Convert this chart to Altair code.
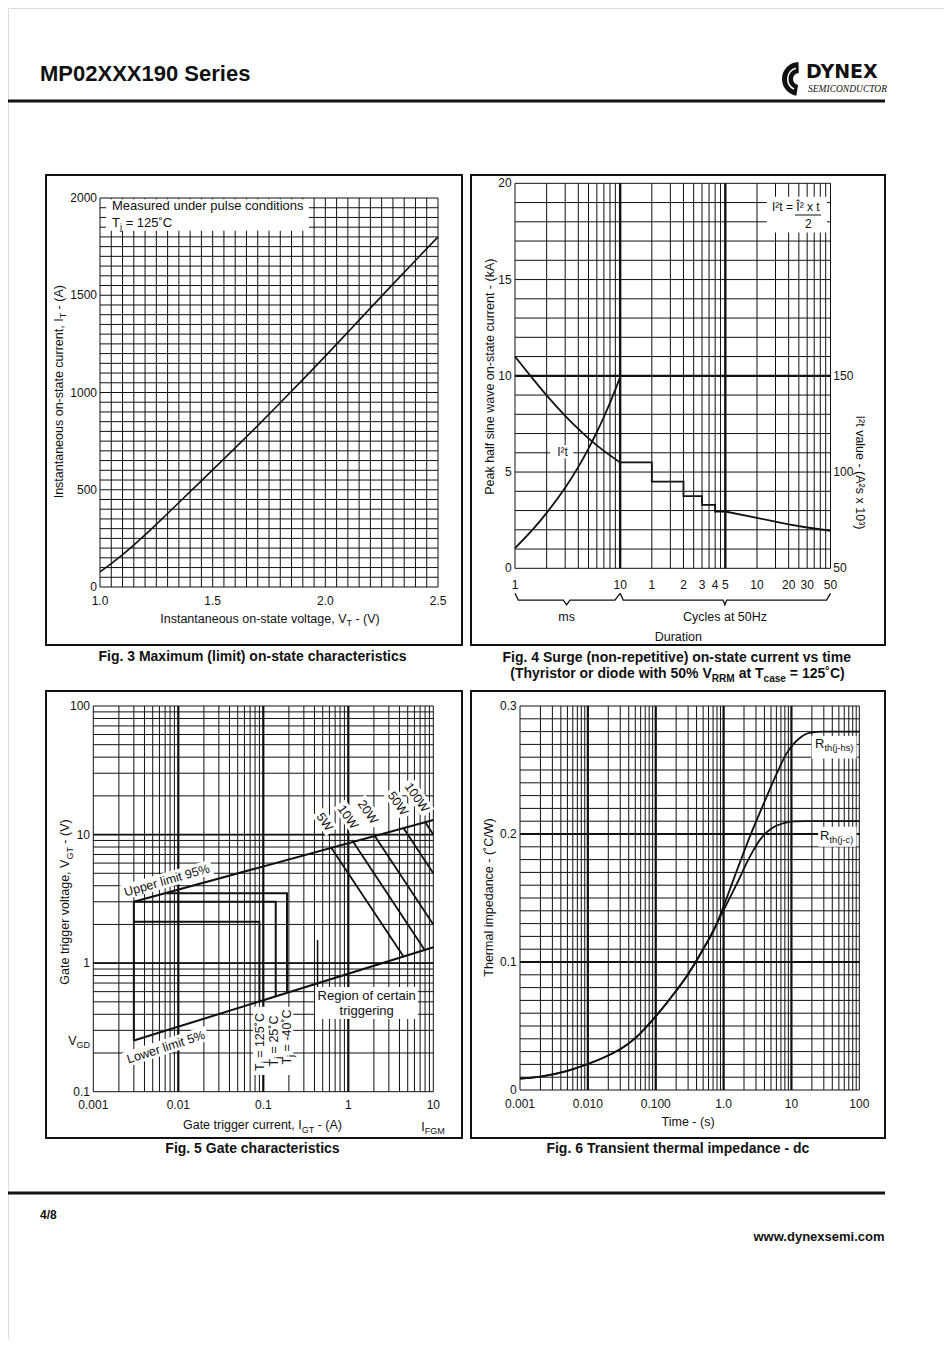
import math
import altair as alt
import pandas as pd

# ================= values =================
# Fig. 3  maximum on-state characteristic
fig3_vt = [1.0, 1.05, 1.1, 1.2, 1.3, 1.4, 1.5, 1.6, 1.7, 1.8, 1.9, 2.0, 2.1, 2.2, 2.3, 2.4, 2.5]
fig3_it = [78, 120, 166, 268, 378, 490, 602, 715, 830, 947, 1066, 1187, 1310, 1434, 1557, 1679, 1800]
fig3_xticks = [1.0, 1.5, 2.0, 2.5]
fig3_xlabels = ["1.0", "1.5", "2.0", "2.5"]
fig3_yticks = [0, 500, 1000, 1500, 2000]
fig3_ylabels = ["0", "500", "1000", "1500", "2000"]

# Fig. 4  surge current (x in ms: 1..10 ms, then cycles at 50 Hz)
fig4_curve_ms = [1, 1.5, 2, 3, 4, 5, 7, 10]
fig4_curve_ka = [11.0, 9.8, 8.98, 7.92, 7.24, 6.75, 6.10, 5.5]
fig4_step_ms = [10, 20, 20, 40, 40, 60, 60, 80, 80, 100, 200, 400, 600, 1000]
fig4_step_ka = [5.5, 5.5, 4.5, 4.5, 3.75, 3.75, 3.3, 3.3, 2.95, 2.95, 2.62, 2.28, 2.12, 1.95]
fig4_i2t_ms = [1, 1.5, 2, 3, 4, 5, 6, 7, 8, 9, 10]
fig4_i2t_val = [60.5, 70.6, 78.8, 91.8, 102.7, 112.2, 120.8, 128.6, 135.9, 142.8, 149.5]
fig4_xticks_ms = [1, 10, 20, 40, 60, 80, 100, 200, 400, 600, 1000]
fig4_xlabels = ["1", "10", "1", "2", "3", "4", "5", "10", "20", "30", "50"]
fig4_yticks = [0, 5, 10, 15, 20]
fig4_ylabels = ["0", "5", "10", "15", "20"]
fig4_y2ticks = [50, 100, 150]
fig4_y2labels = ["50", "100", "150"]
fig4_brace_ms_x = [1, 1.075, 2.88, 3.1, 3.33, 8.92, 10]
fig4_brace_cy_x = [10, 10.7, 95.4, 99, 103, 917, 1000]
fig4_brace_y = [-1.3, -1.65, -1.65, -1.9, -1.65, -1.65, -1.3]

# Fig. 5  gate characteristics
fig5_upper_i = [0.003, 10]
fig5_upper_v = [3.0, 13.0]
fig5_lower_i = [0.003, 10]
fig5_lower_v = [0.25, 1.33]
fig5_rect_temp = ["125", "25", "-40"]
fig5_rect_left = [0.003, 0.003, 0.007]
fig5_rect_i = [0.09, 0.14, 0.19]
fig5_rect_top = [2.1, 3.0, 3.5]
fig5_rect_low = [0.50, 0.55, 0.59]
fig5_power_w = ["5W", "10W", "20W", "50W", "100W"]
fig5_power_i0 = [0.63, 1.14, 2.05, 4.45, 8.0]
fig5_power_v0 = [7.9, 8.78, 9.76, 11.24, 12.5]
fig5_power_i1 = [4.44, 7.89, 10, 10, 10]
fig5_power_v1 = [1.13, 1.27, 2.0, 5.0, 10.0]
fig5_zone_i = [0.007, 0.19, 0.19, 10]
fig5_zone_lo = [3.5, 3.5, 0.59, 1.33]
fig5_zone_hi = [3.5, 6.35, 6.35, 13.0]
fig5_pointer_i = [0.435, 0.435]
fig5_pointer_v = [1.51, 0.62]
fig5_xticks = [0.001, 0.01, 0.1, 1, 10]
fig5_xlabels = ["0.001", "0.01", "0.1", "1", "10"]
fig5_yticks = [0.1, 1, 10, 100]
fig5_ylabels = ["0.1", "1", "10", "100"]

# Fig. 6  transient thermal impedance
fig6_t_common = [0.001, 0.002, 0.005, 0.01, 0.02, 0.03, 0.05, 0.1, 0.2, 0.3, 0.5]
fig6_z_common = [0.009, 0.0105, 0.0150, 0.0203, 0.0270, 0.0318, 0.0405, 0.0575, 0.0775, 0.0905, 0.1100]
fig6_t_jc = [0.7, 1.0, 1.3, 1.64, 2.2, 2.73, 3.5, 4.3, 5.5, 7.5, 11, 16, 30, 100]
fig6_z_jc = [0.1243, 0.1405, 0.1525, 0.1633, 0.1776, 0.187, 0.196, 0.2012, 0.2055, 0.2083, 0.2099, 0.21, 0.21, 0.21]
fig6_t_jhs = [0.7, 1.0, 1.39, 2.44, 4.3, 6.04, 8.5, 13.3, 18.6, 30, 100]
fig6_z_jhs = [0.1235, 0.1435, 0.164, 0.198, 0.229, 0.247, 0.263, 0.275, 0.279, 0.28, 0.28]
fig6_xticks = [0.001, 0.01, 0.1, 1, 10, 100]
fig6_xlabels = ["0.001", "0.010", "0.100", "1.0", "10", "100"]
fig6_yticks = [0, 0.1, 0.2, 0.3]
fig6_ylabels = ["0", "0.1", "0.2", "0.3"]

# grid lines
fig3_vgrid = [round(1.0 + 0.05 * k, 2) for k in range(31)]
fig3_hgrid = [50 * k for k in range(41)]
fig4_vgrid = [m * 10 ** d for d in range(0, 3) for m in range(1, 10)] + [1000]
fig4_vgrid_major = [10, 100]
fig4_hgrid = list(range(0, 21))
fig4_hgrid_major = [10]
fig5_vgrid = [m * 10.0 ** d for d in range(-3, 1) for m in range(1, 10)] + [10]
fig5_vgrid_major = [0.01, 0.1, 1]
fig5_hgrid = [m * 10.0 ** d for d in range(-1, 2) for m in range(1, 10)] + [100]
fig5_hgrid_major = [1, 10]
fig6_vgrid = [m * 10.0 ** d for d in range(-3, 2) for m in range(1, 10)] + [100]
fig6_vgrid_major = [0.01, 0.1, 1, 10]
fig6_hgrid = [round(0.01 * k, 2) for k in range(31)]
fig6_hgrid_major = [0.1, 0.2]

# ================= helpers =================
OFF = 8
FONT = "Liberation Sans"
INK = "#111111"


def cx(v):
    return v - OFF


def cy(v):
    return v - OFF


_AR = dict(zip(" !\"#$%&'()*+,-./", [278, 278, 355, 556, 556, 889, 667, 191, 333, 333, 389, 584, 278, 333, 278, 278]))
_AR.update({c: 556 for c in "0123456789"})
_AR.update(dict(zip(":;<=>?", [278, 278, 584, 584, 584, 556])))
_AR.update(zip("ABCDEFGHIJKLMNOPQRSTUVWXYZ", [667, 667, 722, 722, 667, 611, 778, 722, 278, 500, 667, 556, 833,
                                               722, 778, 667, 778, 722, 667, 611, 722, 667, 944, 667, 667, 611]))
_AR.update(zip("abcdefghijklmnopqrstuvwxyz", [556, 556, 500, 556, 556, 278, 556, 556, 222, 222, 500, 222, 833,
                                               556, 556, 556, 556, 333, 500, 278, 556, 500, 722, 500, 500, 500]))
_AR.update({"˚": 333, "°": 400, "²": 333, "³": 333, "Î": 278})
_AB = dict(zip(" !\"#$%&'()*+,-./", [278, 333, 474, 556, 556, 889, 722, 238, 333, 333, 389, 584, 278, 333, 278, 278]))
_AB.update({c: 556 for c in "0123456789"})
_AB.update(dict(zip(":;<=>?", [333, 333, 584, 584, 584, 611])))
_AB.update(zip("ABCDEFGHIJKLMNOPQRSTUVWXYZ", [722, 722, 722, 722, 667, 611, 778, 722, 278, 556, 722, 611, 833,
                                               722, 778, 667, 778, 722, 667, 611, 722, 667, 944, 667, 667, 611]))
_AB.update(zip("abcdefghijklmnopqrstuvwxyz", [556, 611, 556, 611, 556, 333, 611, 611, 278, 278, 556, 278, 889,
                                               611, 611, 611, 611, 389, 556, 333, 611, 556, 778, 556, 556, 500]))
_AB.update({"˚": 333, "°": 400, "²": 333, "³": 333})

layers = []
TEXTS = []


def D(**cols):
    return pd.DataFrame(cols)


def lin(dom, rng):
    return alt.Scale(type="linear", domain=dom, range=rng, zero=False, nice=False)


def logs(dom, rng):
    return alt.Scale(type="log", domain=dom, range=rng, nice=False)


def vgrid(vals, xs, top, bot, w=1.0):
    layers.append(alt.Chart(D(v=vals)).mark_rule(color=INK, strokeWidth=w).encode(
        x=alt.X("v:Q", scale=xs, axis=None), y=alt.value(cy(top)), y2=alt.value(cy(bot))))


def hgrid(vals, ys, left, right, w=1.0):
    layers.append(alt.Chart(D(v=vals)).mark_rule(color=INK, strokeWidth=w).encode(
        y=alt.Y("v:Q", scale=ys, axis=None), x=alt.value(cx(left)), x2=alt.value(cx(right))))


def curve(xv, yv, xs, ys, w=1.6, interp="linear", grp=None):
    d = D(a=xv, b=yv, i=list(range(len(xv))), g=grp if grp is not None else [0] * len(xv))
    layers.append(alt.Chart(d).mark_line(color=INK, strokeWidth=w, interpolate=interp).encode(
        x=alt.X("a:Q", scale=xs, axis=None), y=alt.Y("b:Q", scale=ys, axis=None),
        order="i:Q", detail="g:N"))


def white_box(x1, x2, y1, y2, xs, ys):
    layers.append(alt.Chart(D(a=[x1], a2=[x2], b=[y1], b2=[y2])).mark_rect(color="white").encode(
        x=alt.X("a:Q", scale=xs, axis=None), x2="a2:Q", y=alt.Y("b:Q", scale=ys, axis=None), y2="b2:Q"))


def xticks(vals, labels, xs, ypix, size=12):
    layers.append(alt.Chart(D(v=vals, t=labels)).mark_text(
        font=FONT, fontSize=size, color=INK, align="center", baseline="middle").encode(
        x=alt.X("v:Q", scale=xs, axis=None), y=alt.value(cy(ypix)), text="t:N"))


def yticks(vals, labels, ys, xpix, align="right", size=12):
    layers.append(alt.Chart(D(v=vals, t=labels)).mark_text(
        font=FONT, fontSize=size, color=INK, align=align, baseline="middle").encode(
        y=alt.Y("v:Q", scale=ys, axis=None), x=alt.value(cx(xpix)), text="t:N"))


def prule(x1, y1, x2, y2, w, color=INK):
    layers.append(alt.Chart(D(k=[0])).mark_rule(color=color, strokeWidth=w).encode(
        x=alt.value(cx(x1)), y=alt.value(cy(y1)), x2=alt.value(cx(x2)), y2=alt.value(cy(y2))))


def frame(x1, y1, x2, y2, w=2):
    layers.append(alt.Chart(D(k=[0])).mark_rect(fill="white", fillOpacity=0, stroke=INK, strokeWidth=w).encode(
        x=alt.value(cx(x1)), x2=alt.value(cx(x2)), y=alt.value(cy(y1)), y2=alt.value(cy(y2))))


def rich(parts, x, y, size, angle=0, bold=False, align="center", bg=None):
    tab = _AB if bold else _AR
    th = math.radians(angle)
    dx, dy = math.cos(th), math.sin(th)
    nx, ny = -math.sin(th), math.cos(th)
    segs = []
    for s, sub in parts:
        sz = round(size * 0.72, 2) if sub else size
        w = sum(tab.get(c, 556) for c in s) * sz / 1000.0
        lead = (len(s) - len(s.lstrip(" "))) * tab[" "] * sz / 1000.0
        segs.append((s.strip(" "), sz, w, lead, sub))
    total = sum(s[2] for s in segs)
    start = {"center": -total / 2, "left": 0.0, "right": -total}[align]
    if bg:
        mid = start + total / 2
        mx, my = x + mid * dx, y + mid * dy
        h = total / 2 + 3
        prule(mx - h * dx, my - h * dy, mx + h * dx, my + h * dy, bg, color="white")
    adv = start
    for txt, sz, w, lead, sub in segs:
        off = 0.358 * size + (0.25 * size if sub else 0.0)
        a = adv + lead
        TEXTS.append(dict(x=cx(x + a * dx + off * nx), y=cy(y + a * dy + off * ny), t=txt,
                          size=sz, angle=angle % 360, bold=bold))
        adv += w


# ================= scales (pixel ranges of each plot area) =================
X3 = lin([1.0, 2.5], [cx(100), cx(438)])
Y3 = lin([0, 2000], [cy(587), cy(198)])
X4 = logs([1, 1000], [cx(515), cx(830.5)])
Y4 = lin([0, 20], [cy(568.3), cy(183.3)])
Y4R = lin([50, 250], [cy(568.3), cy(183.3)])
X5 = logs([0.001, 10], [cx(93.3), cx(433.3)])
Y5 = logs([0.1, 100], [cy(1091.7), cy(706)])
X6 = logs([0.001, 100], [cx(520), cx(859.3)])
Y6 = lin([0, 0.3], [cy(1090), cy(706)])

# ================= Fig. 3 =================
vgrid(fig3_vgrid, X3, 198, 587)
hgrid(fig3_hgrid, Y3, 100, 438)
curve(fig3_vt, fig3_it, X3, Y3, w=1.6, interp="monotone")
white_box(1.027, 1.927, 1832, 1993, X3, Y3)
rich([("Measured under pulse conditions", 0)], 112, 205, 13, align="left")
rich([("T", 0), ("j", 1), (" = 125˚C", 0)], 112, 222.5, 13, align="left")
xticks(fig3_xticks, fig3_xlabels, X3, 601)
yticks(fig3_yticks, fig3_ylabels, Y3, 97)
rich([("Instantaneous on-state voltage, V", 0), ("T", 1), (" - (V)", 0)], 270, 618.3, 12.5)
rich([("Instantaneous on-state current, I", 0), ("T", 1), (" - (A)", 0)], 58.3, 391.7, 12.5, angle=270)
rich([("Fig. 3 Maximum (limit) on-state characteristics", 0)], 252.5, 655.5, 14, bold=True)

# ================= Fig. 4 =================
vgrid(fig4_vgrid, X4, 183.3, 568.3)
vgrid(fig4_vgrid_major, X4, 183.3, 568.3, w=2.4)
hgrid(fig4_hgrid, Y4, 515, 830.5)
hgrid(fig4_hgrid_major, Y4, 515, 830.5, w=2.2)
curve(fig4_curve_ms, fig4_curve_ka, X4, Y4, w=1.8, interp="monotone")
curve(fig4_step_ms, fig4_step_ka, X4, Y4, w=1.8)
curve(fig4_i2t_ms, fig4_i2t_val, X4, Y4R, w=1.8, interp="monotone")
white_box(248, 925, 17.45, 19.3, X4, Y4)
white_box(2.15, 3.58, 5.71, 6.4, X4, Y4)
rich([("I²t = Î² x t", 0)], 795.8, 206.7, 12)
prule(795, 215, 821, 215, 1)
rich([("2", 0)], 808.3, 223.3, 12)
rich([("I²t", 0)], 562.5, 451.7, 12)
xticks(fig4_xticks_ms, fig4_xlabels, X4, 585)
yticks(fig4_yticks, fig4_ylabels, Y4, 511.7)
yticks(fig4_y2ticks, fig4_y2labels, Y4R, 833.3, align="left")
curve(fig4_brace_ms_x, fig4_brace_y, X4, Y4, w=1.3)
curve(fig4_brace_cy_x, fig4_brace_y, X4, Y4, w=1.3)
rich([("ms", 0)], 566.7, 616.7, 12.5)
rich([("Cycles at 50Hz", 0)], 725, 616.7, 12.5)
rich([("Duration", 0)], 678.3, 636.7, 12.5)
rich([("Peak half sine wave on-state current - (kA)", 0)], 490, 376.7, 12.5, angle=270)
rich([("I²t value - (A²s x 10³)", 0)], 860, 472.5, 12.5, angle=90)
rich([("Fig. 4 Surge (non-repetitive) on-state current vs time", 0)], 676.7, 656.7, 14, bold=True)
rich([("(Thyristor or diode with 50% V", 0), ("RRM", 1), (" at T", 0), ("case", 1), (" = 125˚C)", 0)],
     677.5, 673.3, 14, bold=True)

# ================= Fig. 5 =================
layers.append(alt.Chart(D(a=fig5_zone_i, lo=fig5_zone_lo, hi=fig5_zone_hi, i=list(range(4)))).mark_area(
    color="#e4e4e4", interpolate="linear").encode(
    x=alt.X("a:Q", scale=X5, axis=None), y=alt.Y("lo:Q", scale=Y5, axis=None), y2="hi:Q", order="i:Q"))
vgrid(fig5_vgrid, X5, 706, 1091.7)
vgrid(fig5_vgrid_major, X5, 706, 1091.7, w=2.2)
hgrid(fig5_hgrid, Y5, 93.3, 433.3)
hgrid(fig5_hgrid_major, Y5, 93.3, 433.3, w=1.8)
curve(fig5_upper_i, fig5_upper_v, X5, Y5, w=2)
curve(fig5_lower_i, fig5_lower_v, X5, Y5, w=2)
rx, ry, rg = [], [], []
for k in range(3):
    rx += [fig5_rect_left[k], fig5_rect_i[k], fig5_rect_i[k]]
    ry += [fig5_rect_top[k], fig5_rect_top[k], fig5_rect_low[k]]
    rg += [k] * 3
rx += [fig5_lower_i[0], fig5_upper_i[0]]
ry += [fig5_lower_v[0], fig5_upper_v[0]]
rg += [3, 3]
curve(rx, ry, X5, Y5, w=2, grp=rg)
px_, py_, pg = [], [], []
for k in range(5):
    px_ += [fig5_power_i0[k], fig5_power_i1[k]]
    py_ += [fig5_power_v0[k], fig5_power_v1[k]]
    pg += [k, k]
curve(px_, py_, X5, Y5, w=1.8, grp=pg)
curve(fig5_pointer_i, fig5_pointer_v, X5, Y5, w=1.5)
white_box(0.405, 6.6, 0.367, 0.652, X5, Y5)
white_box(0.076, 0.225, 0.135, 0.458, X5, Y5)
rich([("Upper limit 95%", 0)], 166.7, 880, 12.5, angle=344, bg=15)
rich([("Lower limit 5%", 0)], 165.8, 1046.7, 12.5, angle=342, bg=15)
for lab, px0, py0 in zip(fig5_power_w, [325, 348.3, 368.3, 398.3, 417.3], [821.7, 816.7, 811.7, 803.3, 797.3]):
    rich([(lab, 0)], px0, py0, 12.5, angle=55, bg=15)
rich([("Region of certain", 0)], 366.7, 995, 13)
rich([("triggering", 0)], 366.7, 1010.5, 13)
for px0, py0, tlab in zip([260, 273.5, 286.7], [1042, 1041, 1037], [" = 125˚C", " = 25˚C", " = -40˚C"]):
    rich([("T", 0), ("j", 1), (tlab, 0)], px0, py0, 12.5, angle=270)
xticks(fig5_xticks, fig5_xlabels, X5, 1105)
yticks(fig5_yticks, fig5_ylabels, Y5, 90)
rich([("V", 0), ("GD", 1)], 90, 1040.7, 12.5, align="right")
rich([("Gate trigger current, I", 0), ("GT", 1), (" - (A)", 0)], 262.5, 1125, 12.5)
rich([("I", 0), ("FGM", 1)], 433, 1126.7, 12.5)
rich([("Gate trigger voltage, V", 0), ("GT", 1), (" - (V)", 0)], 65, 902, 12.5, angle=270)
rich([("Fig. 5 Gate characteristics", 0)], 252.5, 1148.3, 14, bold=True)

# ================= Fig. 6 =================
vgrid(fig6_vgrid, X6, 706, 1090)
vgrid(fig6_vgrid_major, X6, 706, 1090, w=2.2)
hgrid(fig6_hgrid, Y6, 520, 859.3)
hgrid(fig6_hgrid_major, Y6, 520, 859.3, w=1.8)
curve(fig6_t_common + fig6_t_jc, fig6_z_common + fig6_z_jc, X6, Y6, w=1.8, interp="monotone")
curve(fig6_t_common + fig6_t_jhs, fig6_z_common + fig6_z_jhs, X6, Y6, w=1.8, interp="monotone")
white_box(19.8, 91, 0.259, 0.2765, X6, Y6)
white_box(24.7, 91, 0.19, 0.2057, X6, Y6)
rich([("R", 0), ("th(j-hs)", 1)], 815, 743.5, 13, align="left")
rich([("R", 0), ("th(j-c)", 1)], 820, 835, 13, align="left")
xticks(fig6_xticks, fig6_xlabels, X6, 1104)
yticks(fig6_yticks, fig6_ylabels, Y6, 516.7)
rich([("Time - (s)", 0)], 688.3, 1121.7, 12.5)
rich([("Thermal impedance - (˚C/W)", 0)], 488.3, 897.5, 12.5, angle=270)
rich([("Fig. 6 Transient thermal impedance - dc", 0)], 678.3, 1148.3, 14, bold=True)

# ================= page furniture =================
frame(46, 175, 462, 645)
frame(471, 175, 885, 645)
frame(46, 691, 462, 1138)
frame(471, 691, 885, 1138)
prule(8, 101, 885, 101, 3)
prule(8, 1193, 885, 1193, 3)
rich([("MP02XXX190 Series", 0)], 40, 73, 22, bold=True, align="left")
rich([("4/8", 0)], 40, 1215, 12, bold=True, align="left")
rich([("www.dynexsemi.com", 0)], 885, 1236, 13, bold=True, align="right")

# logo
layers.append(alt.Chart(D(k=[0])).mark_arc(color=INK, radius=17, radius2=6, theta=3.3, theta2=6.25).encode(
    x=alt.value(cx(799)), y=alt.value(cy(79))))
layers.append(alt.Chart(D(k=[0])).mark_arc(color="white", radius=12, radius2=10.5, theta=3.6, theta2=6.0).encode(
    x=alt.value(cx(799)), y=alt.value(cy(79))))
layers.append(alt.Chart(D(t=["DYNEX"])).mark_text(
    font="DejaVu Sans", fontWeight="bold", fontSize=19, align="left", baseline="alphabetic", color=INK).encode(
    x=alt.value(cx(806)), y=alt.value(cy(78)), text="t:N"))
layers.append(alt.Chart(D(t=["SEMICONDUCTOR"])).mark_text(
    font="Liberation Serif", fontStyle="italic", fontSize=9.5, align="left", baseline="alphabetic",
    color=INK).encode(x=alt.value(cx(808)), y=alt.value(cy(92)), text="t:N"))

# ================= all free text =================
for bold in (False, True):
    rows = [r for r in TEXTS if r["bold"] == bold]
    d = pd.DataFrame(rows)
    layers.append(alt.Chart(d).mark_text(
        font=FONT, fontWeight="bold" if bold else "normal", color=INK, align="left", baseline="alphabetic").encode(
        x=alt.X("x:Q", scale=None, axis=None), y=alt.Y("y:Q", scale=None, axis=None), text="t:N",
        size=alt.Size("size:Q", scale=None, legend=None), angle=alt.Angle("angle:Q", scale=None, legend=None)))

chart = alt.layer(*layers).resolve_scale(x="independent", y="independent").properties(
    width=936, height=1331, padding=0, autosize=alt.AutoSizeParams(type="none")
).configure_view(strokeWidth=0).configure(background="white")

chart.save("out.html", embed_options={"renderer": "svg", "actions": False})
